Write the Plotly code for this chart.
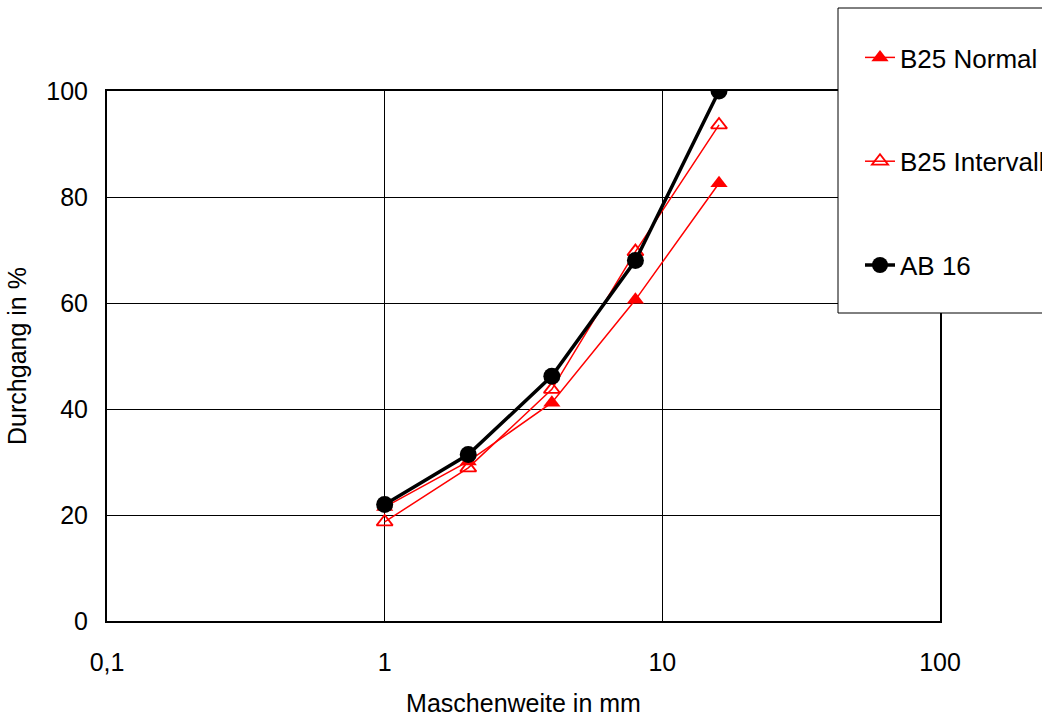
import plotly.graph_objects as go

sizes = [1, 2, 4, 8, 16]
b25_normal = [21.5, 30.1, 41.2, 60.6, 82.6]
b25_intervall = [18.7, 28.9, 43.7, 69.7, 93.6]
ab16 = [22.0, 31.4, 46.2, 68.0, 100.0]

x_tickvals = [0.1, 1, 10, 100]
x_ticktext = ["0,1", "1", "10", "100"]
y_tickvals = [0, 20, 40, 60, 80, 100]

FONT = "Liberation Sans, Arial, sans-serif"

fig = go.Figure()
fig.add_trace(go.Scatter(
    x=sizes, y=b25_normal, name="B25 Normal", mode="lines+markers",
    line=dict(color="#ff0000", width=1.5),
    marker=dict(symbol="triangle-up", size=15, color="#ff0000"),
    legendgroup="a"))
fig.add_trace(go.Scatter(
    x=sizes, y=b25_intervall, name="B25 Intervall", mode="lines+markers",
    line=dict(color="#ff0000", width=1.5),
    marker=dict(symbol="triangle-up-open", size=14, color="#ff0000",
                line=dict(width=1.8, color="#ff0000")),
    legendgroup="b"))
fig.add_trace(go.Scatter(
    x=sizes, y=ab16, name="AB 16", mode="lines+markers",
    line=dict(color="#000000", width=3.5),
    marker=dict(symbol="circle", size=17, color="#000000"),
    legendgroup="c"))

L, R, T, B = 107, 102, 91, 96
W, H = 1042, 717
pw, ph = W - L - R, H - T - B

def px_x(p):
    return (p - L) / pw

def px_y(p):
    return (H - B - p) / ph

fig.add_shape(type="rect", xref="paper", yref="paper",
              x0=px_x(838), x1=px_x(1048), y0=px_y(313), y1=px_y(8),
              line=dict(color="#000000", width=1), fillcolor="white",
              layer="above")

fig.update_layout(
    width=W, height=H,
    margin=dict(l=L, r=R, t=T, b=B, autoexpand=False),
    paper_bgcolor="white", plot_bgcolor="white",
    font=dict(family=FONT, size=26, color="#000000"),
    showlegend=True,
    legend=dict(x=px_x(860), y=px_y(34), xanchor="left", yanchor="top",
                bgcolor="rgba(0,0,0,0)", borderwidth=0,
                font=dict(family=FONT, size=26, color="#000000"),
                tracegroupgap=67, itemwidth=30),
    xaxis=dict(type="log", range=[-1, 2], tickvals=x_tickvals, ticktext=x_ticktext,
               showgrid=True, gridcolor="#000000", gridwidth=1,
               showline=True, linecolor="#000000", linewidth=2, mirror=True,
               ticks="", ticklabelstandoff=18, zeroline=False,
               tickfont=dict(size=25),
               title=dict(text="Maschenweite in mm", standoff=30,
                          font=dict(family=FONT, size=25))),
    yaxis=dict(range=[0, 100], tickvals=y_tickvals,
               showgrid=True, gridcolor="#000000", gridwidth=1,
               showline=True, linecolor="#000000", linewidth=2, mirror=True,
               ticks="", ticklabelstandoff=12, zeroline=False,
               tickfont=dict(size=25),
               title=dict(text="Durchgang in %", standoff=13,
                          font=dict(family=FONT, size=25))),
)

fig.write_html("out.html")
